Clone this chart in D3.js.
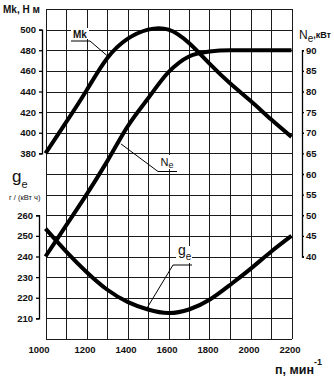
<!DOCTYPE html>
<html><head><meta charset="utf-8">
<script src="https://cdn.jsdelivr.net/npm/d3@7/dist/d3.min.js"></script>
<style>
html,body{margin:0;padding:0;background:#fff;}
svg{display:block;font-family:"Liberation Sans",Arial,sans-serif;}
</style></head>
<body>
<svg id="chart" width="334" height="377"></svg>
<script>
// ---- data ----
const rpm    = [1000,1100,1200,1300,1400,1500,1600,1700,1800,1900,2000,2100,2200];
const torque = [380, 410, 441, 472, 491, 500, 500, 487, 467, 448, 431, 413, 396];   // Mk, Н м
const power  = [40, 47.5, 55, 63, 71.5, 78.3, 84.7, 88.5, 89.7, 90, 90, 90, 90];    // Ne, кВт
const fuel   = [253.5, 242.5, 232.5, 224, 218, 214.3, 212.6, 214.3, 219, 226.2, 234, 242.3, 250]; // ge
const xTicks  = [1000,1200,1400,1600,1800,2000,2200];
const mkTicks = [380,400,420,440,460,480,500];
const geTicks = [210,220,230,240,250,260];
const neTicks = [40,45,50,55,60,65,70,75,80,85,90];

const svg = d3.select("#chart");
const L = 45.5, R = 291.5, T = 9, B = 339;
const x  = d3.scaleLinear().domain([1000,2200]).range([L,R]);
const yMk = d3.scaleLinear().domain([200,520]).range([B,T]);
const yGe = d3.scaleLinear().domain([200,360]).range([B,T]);
const yNe = d3.scaleLinear().domain([20,100]).range([B,T]);

// grid
const grid = svg.append("g").attr("stroke","#1a1a1a").attr("stroke-width",1).attr("shape-rendering","crispEdges");
d3.range(1000,2201,100).forEach(v=>{
  grid.append("line").attr("x1",Math.round(x(v))+0.5).attr("x2",Math.round(x(v))+0.5).attr("y1",T).attr("y2",B);
});
d3.range(200,521,20).forEach(v=>{
  const yy = Math.round(yMk(v))+0.5;
  grid.append("line").attr("x1",L).attr("x2",R+0.5).attr("y1",yy).attr("y2",yy);
});

// curves
const lineOf = (yS, vals, curve) => d3.line().x((d,i)=>x(rpm[i])).y(d=>yS(d)).curve(curve)(vals);
const curves = svg.append("g").attr("fill","none").attr("stroke","#000").attr("stroke-width",4);
curves.append("path").attr("d", lineOf(yMk, torque, d3.curveNatural));
curves.append("path").attr("d", lineOf(yNe, power, d3.curveMonotoneX));
curves.append("path").attr("d", lineOf(yGe, fuel, d3.curveNatural));

const FW = "bold";
// x axis labels
svg.append("g").selectAll("text").data(xTicks).join("text")
  .attr("x",(d,i)=>x(d)-1.5-(i===0?5:0)).attr("y",353)
  .attr("text-anchor","middle").attr("font-size",9.5).attr("font-weight",FW).attr("fill","#111").text(d=>d);

function styleAxis(g){
  g.selectAll("path,line").attr("stroke","#000").attr("stroke-width",1.3);
  g.selectAll("text").attr("font-size",9.5).attr("font-weight",FW).attr("fill","#111").attr("font-family","Liberation Sans, Arial, sans-serif");
}
// left Mk axis
const sMk = d3.scaleLinear().domain([380,500]).range([yMk(380),yMk(500)]);
svg.append("g").attr("transform","translate(42,0)")
  .call(d3.axisLeft(sMk).tickValues(mkTicks).tickSize(3).tickPadding(3)).call(styleAxis);
// left ge axis
const sGe = d3.scaleLinear().domain([210,260]).range([yGe(210),yGe(260)]);
svg.append("g").attr("transform","translate(39,0)")
  .call(d3.axisLeft(sGe).tickValues(geTicks).tickSize(3).tickPadding(3)).call(styleAxis);
// right Ne axis
const sNe = d3.scaleLinear().domain([40,90]).range([yNe(40),yNe(90)]);
svg.append("g").attr("transform","translate(302,0)")
  .call(d3.axisRight(sNe).tickValues(neTicks).tickSize(2).tickPadding(2)).call(styleAxis);

// axis titles
svg.append("text").attr("x",3).attr("y",13).attr("font-size",10).attr("font-weight",FW).attr("fill","#111").text("Mk, Н м");
const ne = svg.append("text").attr("x",299).attr("y",39).attr("fill","#111").attr("font-weight",FW);
ne.append("tspan").attr("font-size",12).attr("font-weight","normal").text("N");
ne.append("tspan").attr("font-size",10).attr("font-weight","normal").attr("dy",3).text("e");
ne.append("tspan").attr("font-size",9).attr("dy",-4).text(",кВт");
const ge = svg.append("text").attr("x",12).attr("y",182).attr("fill","#111");
ge.append("tspan").attr("font-size",17).text("g");
ge.append("tspan").attr("font-size",11).attr("dy",6).text("e");
svg.append("text").attr("x",9).attr("y",200).attr("font-size",7.5).attr("fill","#111").text("г / (кВт ч)");
const nt = svg.append("text").attr("x",275).attr("y",374).attr("fill","#111").attr("font-weight",FW);
nt.append("tspan").attr("font-size",12.5).text("п, мин");
nt.append("tspan").attr("font-size",9).attr("dy",-9).text("-1");

// in-plot labels with leaders
const lab = svg.append("g");
function leader(pts){
  lab.append("path").attr("d",d3.line()(pts)).attr("fill","none").attr("stroke","#000").attr("stroke-width",1);
}
// Mk
lab.append("rect").attr("x",71).attr("y",28).attr("width",18).attr("height",11).attr("fill","#fff");
lab.append("text").attr("x",73).attr("y",37.5).attr("font-size",10).attr("font-weight",FW).attr("fill","#111").text("Mk");
leader([[71,41],[90,41],[x(1305),yMk(474)]]);
// Ne
lab.append("rect").attr("x",159).attr("y",155).attr("width",17).attr("height",14).attr("fill","#fff");
const tNe = lab.append("text").attr("x",160.5).attr("y",165.5).attr("fill","#111");
tNe.append("tspan").attr("font-size",11).text("N");
tNe.append("tspan").attr("font-size",9).attr("dy",2).text("e");
leader([[x(1368),yNe(67.3)],[158,171.5],[177,171.5]]);
// ge
lab.append("rect").attr("x",176).attr("y",246).attr("width",16).attr("height",17).attr("fill","#fff");
const tGe = lab.append("text").attr("x",178).attr("y",255).attr("fill","#111");
tGe.append("tspan").attr("font-size",14).text("g");
tGe.append("tspan").attr("font-size",10).attr("dy",5).text("e");
leader([[x(1492),yGe(214.5)],[173,265],[192,265]]);
</script>
</body></html>
